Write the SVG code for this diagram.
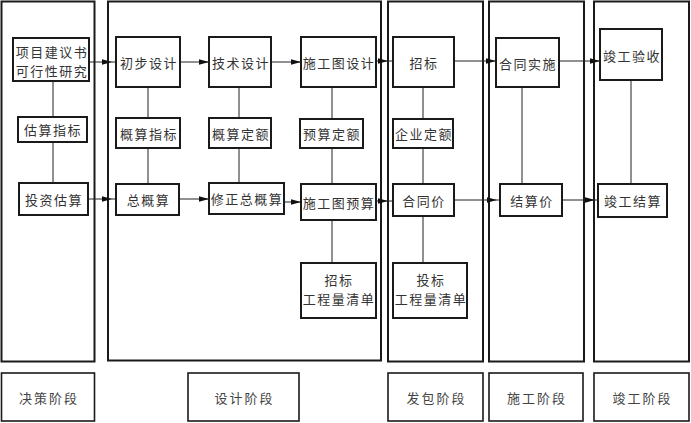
<svg xmlns="http://www.w3.org/2000/svg" width="691" height="423" viewBox="0 0 691 423">
<style>
.col{fill:none;stroke:#1a1a1a;stroke-width:2}
.stage{fill:#fff;stroke:#1a1a1a;stroke-width:1.6}
.box{fill:#fff;stroke:#1a1a1a;stroke-width:2}
.t{font-family:"Noto Sans CJK SC","Noto Sans",sans-serif;font-size:13px;fill:#333;text-anchor:middle;dominant-baseline:central;letter-spacing:1.5px}
.s{font-family:"Noto Sans CJK SC","Noto Sans",sans-serif;font-size:13px;fill:#444;text-anchor:middle;dominant-baseline:central;letter-spacing:2px}
.ln{fill:none;stroke:#222;stroke-width:1}
</style>
<defs>
<marker id="ah" markerUnits="userSpaceOnUse" markerWidth="12" markerHeight="8" refX="10" refY="4" orient="auto">
<path d="M0,1.2 L10,4 L0,6.8 Z" fill="#111"/>
</marker>
</defs>
<rect width="691" height="423" fill="#fff"/>
<g id="columns">
<rect class="col" x="1.5" y="1.5" width="93" height="360"/>
<rect class="col" x="108" y="1.5" width="273" height="359"/>
<rect class="col" x="388" y="1.5" width="95" height="360"/>
<rect class="col" x="489" y="1.5" width="95" height="360"/>
<rect class="col" x="594" y="1.5" width="95" height="360"/>
</g>
<g id="stages">
<g id="stage1"><rect class="stage" x="1.5" y="373" width="93" height="48"/><text class="s" x="49" y="397">决策阶段</text></g>
<g id="stage2"><rect class="stage" x="188" y="373" width="111" height="48"/><text class="s" x="244.5" y="397">设计阶段</text></g>
<g id="stage3"><rect class="stage" x="388" y="373" width="95" height="48"/><text class="s" x="436.5" y="397">发包阶段</text></g>
<g id="stage4"><rect class="stage" x="489" y="373" width="94" height="48"/><text class="s" x="537" y="397">施工阶段</text></g>
<g id="stage5"><rect class="stage" x="594" y="373" width="95" height="48"/><text class="s" x="642.5" y="397">竣工阶段</text></g>
</g>
<g id="connectors">
<path class="ln" d="M53,81 V117 M53,142 V183"/>
<path class="ln" d="M148,87 V118 M148,148 V184"/>
<path class="ln" d="M239,87 V118 M239,148 V183"/>
<path class="ln" d="M332,87 V119 M332,148 V184 M332,220 V263"/>
<path class="ln" d="M423,87 V119 M423,148 V184 M423,216 V263"/>
<path class="ln" d="M522,87 V184"/>
<path class="ln" d="M631,80 V184"/>
<path class="ln" d="M89,62 H112" marker-end="url(#ah)"/><path class="ln" d="M112,62 H116"/>
<path class="ln" d="M180,62 H209" marker-end="url(#ah)"/>
<path class="ln" d="M271,62 H301" marker-end="url(#ah)"/>
<path class="ln" d="M376,61 H388" marker-end="url(#ah)"/><path class="ln" d="M388,61 H393"/>
<path class="ln" d="M454,61 H496" marker-end="url(#ah)"/>
<path class="ln" d="M559,61 H600" marker-end="url(#ah)"/>
<path class="ln" d="M88,199 H112" marker-end="url(#ah)"/><path class="ln" d="M112,199 H116"/>
<path class="ln" d="M179,199 H209" marker-end="url(#ah)"/>
<path class="ln" d="M284,202 H301" marker-end="url(#ah)"/>
<path class="ln" d="M376,201 H388" marker-end="url(#ah)"/><path class="ln" d="M388,201 H393"/>
<path class="ln" d="M454,200 H497" marker-end="url(#ah)"/><path class="ln" d="M497,200 H500"/>
<path class="ln" d="M562,200 H595" marker-end="url(#ah)"/><path class="ln" d="M595,200 H598"/>
</g>
<g id="n1"><rect class="box" x="13" y="38" width="76" height="43"/><text class="t" x="52" y="51">项目建议书</text><text class="t" x="52" y="70">可行性研究</text></g>
<g id="n2"><rect class="box" x="18" y="117" width="69" height="25"/><text class="t" x="53" y="129.5">估算指标</text></g>
<g id="n3"><rect class="box" x="19" y="183" width="69" height="32"/><text class="t" x="54" y="199">投资估算</text></g>
<g id="n4"><rect class="box" x="116" y="37" width="64" height="50"/><text class="t" x="149" y="62">初步设计</text></g>
<g id="n5"><rect class="box" x="116" y="118" width="64" height="30"/><text class="t" x="149" y="133">概算指标</text></g>
<g id="n6"><rect class="box" x="116" y="184" width="63" height="31"/><text class="t" x="148.5" y="199.5">总概算</text></g>
<g id="n7"><rect class="box" x="209" y="37" width="62" height="50"/><text class="t" x="241" y="62">技术设计</text></g>
<g id="n8"><rect class="box" x="209" y="118" width="62" height="30"/><text class="t" x="241" y="133">概算定额</text></g>
<g id="n9"><rect class="box" x="209" y="183" width="75" height="31"/><text class="t" x="247" y="198.5">修正总概算</text></g>
<g id="n10"><rect class="box" x="301" y="37" width="75" height="50"/><text class="t" x="339" y="62">施工图设计</text></g>
<g id="n11"><rect class="box" x="300" y="119" width="63" height="29"/><text class="t" x="332" y="133.5">预算定额</text></g>
<g id="n12"><rect class="box" x="301" y="184" width="75" height="36"/><text class="t" x="339" y="202">施工图预算</text></g>
<g id="n13"><rect class="box" x="301" y="263" width="75" height="55"/><text class="t" x="339" y="279">招标</text><text class="t" x="339" y="298">工程量清单</text></g>
<g id="n14"><rect class="box" x="393" y="37" width="61" height="50"/><text class="t" x="424" y="62">招标</text></g>
<g id="n15"><rect class="box" x="393" y="119" width="60" height="29"/><text class="t" x="424" y="133.5">企业定额</text></g>
<g id="n16"><rect class="box" x="393" y="184" width="61" height="32"/><text class="t" x="424" y="200">合同价</text></g>
<g id="n17"><rect class="box" x="393" y="263" width="74" height="55"/><text class="t" x="431" y="279">投标</text><text class="t" x="431" y="298">工程量清单</text></g>
<g id="n18"><rect class="box" x="496" y="38" width="63" height="49"/><text class="t" x="528" y="63">合同实施</text></g>
<g id="n19"><rect class="box" x="500" y="184" width="62" height="32"/><text class="t" x="532" y="200">结算价</text></g>
<g id="n20"><rect class="box" x="600" y="29" width="62" height="51"/><text class="t" x="632" y="55">竣工验收</text></g>
<g id="n21"><rect class="box" x="598" y="184" width="69" height="33"/><text class="t" x="633" y="200.5">竣工结算</text></g>
</svg>
